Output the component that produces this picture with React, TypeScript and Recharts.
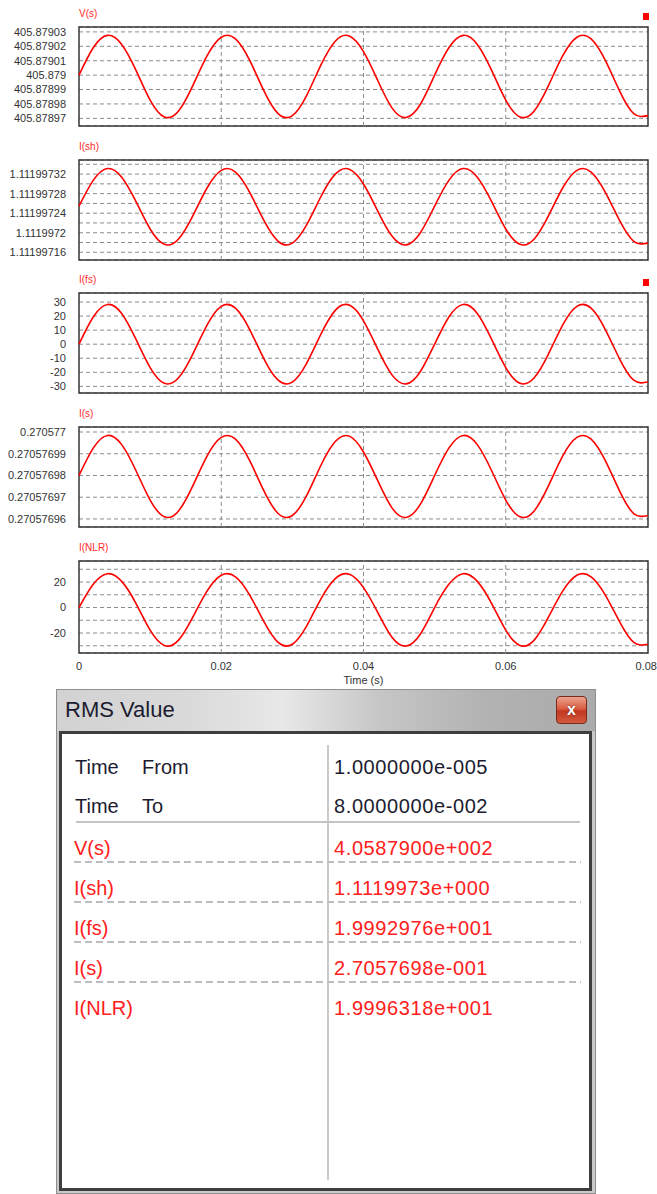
import { LineChart, Line, XAxis, YAxis, CartesianGrid, ReferenceLine, ReferenceArea } from 'recharts';

const times = [
  0, 0.002, 0.004, 0.006, 0.008, 0.01, 0.012, 0.014, 0.016, 0.018, 0.02, 0.022, 0.024, 0.026,
  0.028, 0.03, 0.032, 0.034, 0.036, 0.038, 0.04, 0.042, 0.044, 0.046, 0.048, 0.05, 0.052, 0.054,
  0.056, 0.058, 0.06, 0.062, 0.064, 0.066, 0.068, 0.07, 0.072, 0.074, 0.076, 0.078, 0.08,
];

const vs = [
  405.879, 405.879019, 405.8790276, 405.8790213, 405.8790035, 405.8789827, 405.878971, 405.8789751,
  405.8789927, 405.8790133, 405.8790263, 405.8790251, 405.8790102, 405.8789891, 405.8789733,
  405.8789719, 405.8789858, 405.8790069, 405.8790234, 405.8790272, 405.8790163, 405.8789963,
  405.8789773, 405.8789706, 405.8789798, 405.879, 405.879019, 405.8790276, 405.8790213,
  405.8790035, 405.8789827, 405.878971, 405.8789751, 405.8789927, 405.8790133, 405.8790263,
  405.8790251, 405.8790102, 405.8789891, 405.8789733, 405.8789719,
];

const ish = [
  1.1119972544, 1.1119973071, 1.1119973313, 1.1119973137, 1.1119972641, 1.1119972077, 1.1119971763,
  1.1119971873, 1.1119972346, 1.1119972915, 1.1119973276, 1.1119973241, 1.1119972827, 1.1119972251,
  1.1119971825, 1.1119971788, 1.1119972161, 1.1119972736, 1.1119973194, 1.11199733, 1.1119972997,
  1.1119972444, 1.1119971932, 1.1119971751, 1.1119972, 1.1119972544, 1.1119973071, 1.1119973313,
  1.1119973137, 1.1119972641, 1.1119972077, 1.1119971763, 1.1119971873, 1.1119972346, 1.1119972915,
  1.1119973276, 1.1119973241, 1.1119972827, 1.1119972251, 1.1119971825, 1.1119971788,
];

const ifs = [
  0, 19.37, 28.24, 21.81, 3.55, -16.63, -27.8, -23.89, -7.04, 13.63, 26.92, 25.61, 10.42, -10.42,
  -25.61, -26.92, -13.63, 7.04, 23.89, 27.8, 16.63, -3.55, -21.81, -28.24, -19.37, 0, 19.37, 28.24,
  21.81, 3.55, -16.63, -27.8, -23.89, -7.04, 13.63, 26.92, 25.61, 10.42, -10.42, -25.61, -26.92,
];

const is = [
  0.27057698, 0.2705769926, 0.2705769984, 0.2705769942, 0.2705769823, 0.2705769687, 0.270576961,
  0.2705769637, 0.2705769752, 0.2705769889, 0.2705769975, 0.2705769967, 0.2705769868, 0.2705769729,
  0.2705769625, 0.2705769616, 0.2705769707, 0.2705769846, 0.2705769955, 0.2705769981, 0.2705769908,
  0.2705769776, 0.2705769651, 0.2705769607, 0.2705769668, 0.27057698, 0.2705769926, 0.2705769984,
  0.2705769942, 0.2705769823, 0.2705769687, 0.270576961, 0.2705769637, 0.2705769752, 0.2705769889,
  0.2705769975, 0.2705769967, 0.2705769868, 0.2705769729, 0.2705769625, 0.2705769616,
];

const inlr = [
  0, 18.21, 26.55, 20.5, 3.33, -17.81, -29.76, -25.58, -7.54, 12.82, 25.3, 24.07, 9.79, -11.15,
  -27.42, -28.82, -14.6, 6.62, 22.46, 26.13, 15.64, -3.8, -23.35, -30.24, -20.74, 0, 18.21, 26.55,
  20.5, 3.33, -17.81, -29.76, -25.58, -7.54, 12.82, 25.3, 24.07, 9.79, -11.15, -27.42, -28.82,
];

const timeTicks = [0, 0.02, 0.04, 0.06, 0.08];
const timeLabels = ['0', '0.02', '0.04', '0.06', '0.08'];

const vsTicks = [405.87897, 405.87898, 405.87899, 405.879, 405.87901, 405.87902, 405.87903];
const vsLabels = ['405.87897', '405.87898', '405.87899', '405.879', '405.87901', '405.87902', '405.87903'];

const ishTicks = [
  1.11199716, 1.11199718, 1.1119972, 1.11199722, 1.11199724, 1.11199726, 1.11199728, 1.1119973,
  1.11199732, 1.11199734,
];
const ishLabels = ['1.11199716', '', '1.1119972', '', '1.11199724', '', '1.11199728', '', '1.11199732', ''];

const ifsTicks = [-30, -20, -10, 0, 10, 20, 30];
const ifsLabels = ['-30', '-20', '-10', '0', '10', '20', '30'];

const isTicks = [0.27057696, 0.27057697, 0.27057698, 0.27057699, 0.270577];
const isLabels = ['0.27057696', '0.27057697', '0.27057698', '0.27057699', '0.270577'];

const inlrTicks = [-30, -20, -10, 0, 10, 20, 30];
const inlrLabels = ['', '-20', '', '0', '', '20', ''];

const rmsNames = ['V(s)', 'I(sh)', 'I(fs)', 'I(s)', 'I(NLR)'];
const rmsValues = ['4.0587900e+002', '1.1119973e+000', '1.9992976e+001', '2.7057698e-001', '1.9996318e+001'];

const rows = times.map((t, i) => ({ t, vs: vs[i], ish: ish[i], ifs: ifs[i], is: is[i], inlr: inlr[i] }));

const FONT = '"Liberation Sans", Arial, sans-serif';
const RED = '#ff0000';
const GRID = '#8c8c8c';

const panels = [
  { key: 'vs', title: 'V(s)', top: 0, height: 131, mt: 27, mb: 5, domain: [405.8789647, 405.8790334], ticks: vsTicks, labels: vsLabels, marker: true },
  { key: 'ish', title: 'I(sh)', top: 135, height: 130, mt: 25, mb: 5, domain: [1.1119971442, 1.1119973488], ticks: ishTicks, labels: ishLabels },
  { key: 'ifs', title: 'I(fs)', top: 268, height: 130, mt: 25, mb: 5, domain: [-34.7, 36.4], ticks: ifsTicks, labels: ifsLabels, marker: true },
  { key: 'is', title: 'I(s)', top: 402, height: 130, mt: 25, mb: 5, domain: [0.2705769563, 0.2705770023], ticks: isTicks, labels: isLabels },
  { key: 'inlr', title: 'I(NLR)', top: 536, height: 150, mt: 25, mb: 0, domain: [-35.7, 36.5], ticks: inlrTicks, labels: inlrLabels, showX: true },
];

// last time label sits against the right edge of the page, so anchor it at its end
function TimeTick(props: any) {
  const { x, y, index } = props;
  const last = index === timeLabels.length - 1;
  return (
    <text
      x={last ? x + 9 : x}
      y={y}
      dy="0.71em"
      textAnchor={last ? 'end' : 'middle'}
      fill="#333"
      fontSize={11}
      fontFamily={FONT}
    >
      {timeLabels[index]}
    </text>
  );
}

function Panel({ p }: { p: any }) {
  return (
    <div style={{ position: 'absolute', left: 0, top: p.top, width: 657, height: p.height }}>
      <div
        style={{
          position: 'absolute', left: 79, top: p.mt - 19, fontSize: 10, lineHeight: '12px',
          color: '#ff2a2a', fontFamily: FONT, whiteSpace: 'nowrap',
        }}
      >
        {p.title}
      </div>
      {p.marker && (
        <div style={{ position: 'absolute', left: 643, top: p.mt - 14, width: 6, height: 7, background: RED }} />
      )}
      <LineChart width={657} height={p.height} data={rows} margin={{ top: p.mt, right: 9, bottom: p.mb, left: 3 }}>
        <CartesianGrid vertical={false} stroke={GRID} strokeDasharray="4 3" />
        <XAxis
          type="number"
          dataKey="t"
          domain={[0, 0.08]}
          ticks={timeTicks}
          interval={0}
          hide={!p.showX}
          height={33}
          axisLine={false}
          tickLine={false}
          tickSize={0}
          tickMargin={9}
          tick={<TimeTick />}
          label={{ value: 'Time (s)', position: 'insideBottom', offset: 2, fill: '#333', fontSize: 11, fontFamily: FONT }}
        />
        <YAxis
          type="number"
          domain={p.domain}
          allowDataOverflow
          ticks={p.ticks}
          interval={0}
          tickFormatter={(v: number, i: number) => p.labels[i]}
          width={76}
          axisLine={false}
          tickLine={false}
          tickSize={0}
          tickMargin={13}
          tick={{ fill: '#333', fontSize: 11, fontFamily: FONT }}
        />
        {[0.02, 0.04, 0.06].map((x) => (
          <ReferenceLine key={x} x={x} stroke={GRID} strokeDasharray="4 3" />
        ))}
        <ReferenceArea x1={0} x2={0.08} y1={p.domain[0]} y2={p.domain[1]} fill="none" stroke="#363636" strokeWidth={1.5} />
        <Line type="natural" dataKey={p.key} stroke={RED} strokeWidth={1.6} dot={false} isAnimationActive={false} />
      </LineChart>
    </div>
  );
}

function RmsDialog() {
  const dark = '#1c1c30';
  const red = '#ff2020';
  const text = (content: string, left: number, cy: number, color: string, extra: any = {}) => (
    <div
      style={{
        position: 'absolute', left, top: cy - 12, height: 24, lineHeight: '24px', fontSize: 20,
        fontFamily: FONT, color, whiteSpace: 'nowrap', ...extra,
      }}
    >
      {content}
    </div>
  );
  return (
    <div style={{ position: 'absolute', left: 0, top: 0 }}>
      {/* window frame + title bar */}
      <div
        style={{
          position: 'absolute', left: 56, top: 689, width: 540, height: 505, boxSizing: 'border-box',
          border: '1px solid #8e8e8e', background: '#c9c9c9',
        }}
      />
      <div
        style={{
          position: 'absolute', left: 57, top: 690, width: 538, height: 41,
          background: 'linear-gradient(to right, #d2d2d2 0%, #dadada 25%, #e8e8e8 42%, #c6c6c6 60%, #b2b2b2 80%, #ababab 100%)',
        }}
      />
      <div
        style={{
          position: 'absolute', left: 65, top: 697, height: 26, lineHeight: '26px', fontSize: 22,
          fontFamily: FONT, color: dark, whiteSpace: 'nowrap',
        }}
      >
        RMS Value
      </div>
      <div
        style={{
          position: 'absolute', left: 556, top: 696, width: 31, height: 28, boxSizing: 'border-box',
          borderRadius: 4, border: '1px solid #7a2b1c',
          background: 'linear-gradient(#eba48f 0%, #da5c41 45%, #c3381f 55%, #d25a3e 100%)',
          color: '#fff', fontFamily: FONT, fontWeight: 'bold', fontSize: 16, lineHeight: '25px',
          textAlign: 'center', textShadow: '0 0 2px #5a1a10',
        }}
      >
        x
      </div>
      {/* content panel */}
      <div
        style={{
          position: 'absolute', left: 59, top: 731, width: 533, height: 460, boxSizing: 'border-box',
          border: '3px solid #3e3e3e', background: '#ffffff',
        }}
      />
      <div style={{ position: 'absolute', left: 327, top: 745, width: 2, height: 435, background: '#cacaca' }} />
      {text('Time', 75, 767, dark)}
      {text('From', 142, 767, dark)}
      {text('Time', 75, 806, dark)}
      {text('To', 142, 806, dark)}
      {text('1.0000000e-005', 334, 767, dark, { letterSpacing: 0.6 })}
      {text('8.0000000e-002', 334, 806, dark, { letterSpacing: 0.6 })}
      <div style={{ position: 'absolute', left: 76, top: 821, width: 504, height: 2, background: '#c4c4c4' }} />
      {rmsNames.map((name, i) => (
        <div key={name}>
          {text(name, 74, 848 + 40 * i, red)}
          {text(rmsValues[i], 334, 848 + 40 * i, red, { letterSpacing: 0.6 })}
          {i < rmsNames.length - 1 && (
            <div
              style={{
                position: 'absolute', left: 74, top: 861 + 40 * i, width: 507, height: 2,
                background: 'repeating-linear-gradient(to right, #bdbdbd 0 7px, transparent 7px 11px)',
              }}
            />
          )}
        </div>
      ))}
    </div>
  );
}

export default function App() {
  return (
    <div
      style={{
        position: 'absolute', left: 0, top: 0, width: 657, height: 1194, overflow: 'hidden',
        background: '#ffffff', fontFamily: FONT,
      }}
    >
      {panels.map((p) => (
        <Panel key={p.key} p={p} />
      ))}
      <RmsDialog />
    </div>
  );
}
